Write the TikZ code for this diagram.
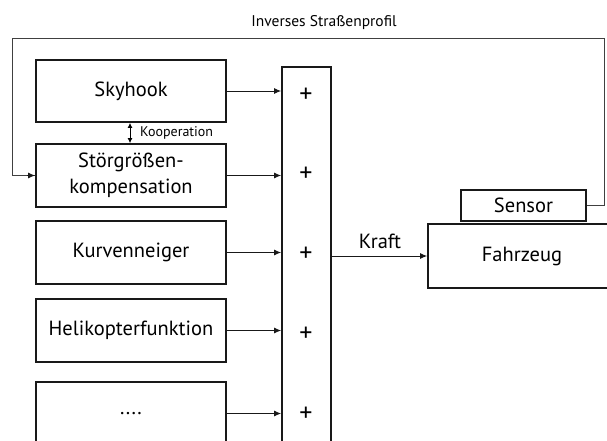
\documentclass[tikz,border=0pt]{standalone}
\usepackage{fontspec}
\setmainfont{PT Sans}
\usetikzlibrary{arrows.meta}
\begin{document}
\begin{tikzpicture}[x=1pt,y=-1pt,
  block/.style={draw=black!90,line width=1.8pt,minimum width=190pt,minimum height=63pt,
    inner sep=0pt,align=center,text=black,font=\fontsize{20.5}{26}\selectfont},
  plain/.style={inner sep=0pt,text=black,font=\fontsize{20.5}{24}\selectfont},
  plus/.style={inner sep=0pt,text=black,font=\fontsize{26}{28}\selectfont},
  small/.style={inner sep=0pt,text=black,font=\fontsize{14}{16}\selectfont},
  conn/.style={line width=0.9pt,draw=black!90,-{Latex[length=7pt,width=6pt]}},
  fb/.style={line width=0.9pt,draw=black!75}]
\useasboundingbox (0,0) rectangle (607,440);
\clip (0,0) rectangle (607,440);
\fill[white] (0,0) rectangle (607,440);

% controller blocks
\node[block,minimum height=62pt] (sky) at (131,91) {Skyhook};
\node[block] (stoer) at (131,175.5) {Störgrößen-\\kompensation};
\node[block] (kurve) at (131,252.5) {Kurvenneiger};
\node[block] (heli) at (131,330.5) {Helikopterfunktion};
\node[block] (dots) at (131,413.5) {....};

% summation bar
\node[draw=black!90,line width=1.8pt,minimum width=49pt,minimum height=400pt,inner sep=0pt] (sum) at (306.5,267) {};
\foreach \i/\y in {1/95,2/174,3/254,4/334,5/414}
  \node[plus] (p\i) at (306,\y) {+};

% plant and sensor
\node[block,minimum width=188pt,minimum height=64pt] (fahr) at (522,256) {Fahrzeug};
\node[block,minimum width=125pt,minimum height=31pt] (sens) at (523.5,205.5) {Sensor};

% block outputs into the summation
\foreach \b in {sky,stoer,kurve,heli,dots}
  \draw[conn] (\b.east) -- (\b.east -| sum.west);

% total force to the vehicle
\draw[conn] (sum.east |- fahr.west) -- (fahr.west);
\node[plain,anchor=south] (kraft) at (380,249) {Kraft};

% cooperation between skyhook and disturbance compensation
\draw[line width=0.9pt,{Latex[length=5pt,width=5pt]}-{Latex[length=5pt,width=5pt]}] ([xshift=-1pt]sky.south) -- ([xshift=-1pt]stoer.north);
\node[small,anchor=west] (koop) at (140,133) {Kooperation};

% feedback of the inverse road profile
\coordinate (fr) at (604,205.5);
\coordinate (tr) at (604,38);
\coordinate (tl) at (12,38);
\draw[fb] (sens.east) -- (fr) -- (tr) -- (tl) |- (stoer.west);
\draw[conn,-{Latex[length=7pt,width=6pt]}] ([xshift=-8pt]stoer.west) -- (stoer.west);
\node[small,anchor=south,font=\fontsize{15.5}{17}\selectfont] (inv) at (324,30) {Inverses Straßenprofil};
\end{tikzpicture}
\end{document}
